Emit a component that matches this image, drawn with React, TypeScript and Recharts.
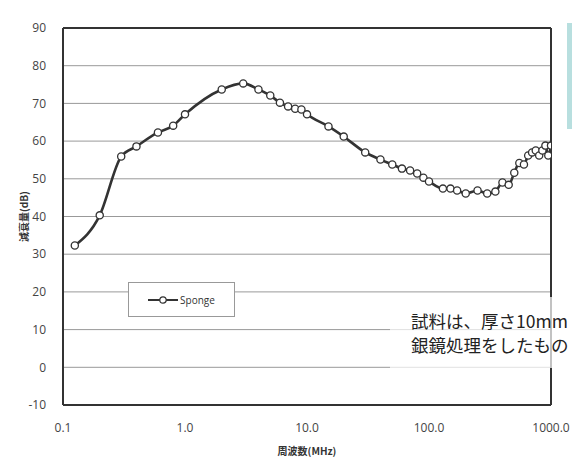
import React from 'react';
import { LineChart, Line, XAxis, YAxis, CartesianGrid, ReferenceLine } from 'recharts';

const frequencies = [0.125, 0.2, 0.3, 0.4, 0.6, 0.8, 1.0, 2.0, 3.0, 4.0, 5.0, 6.0, 7.0, 8.0, 9.0, 10, 15, 20, 30, 40, 50, 60, 70, 80, 90, 100, 130, 150, 170, 200, 250, 300, 350, 400, 450, 500, 550, 600, 650, 700, 750, 800, 850, 900, 950, 1000];
const spongeValues = [32.3, 40.3, 55.9, 58.6, 62.3, 64.1, 67.1, 73.7, 75.3, 73.7, 72.1, 70.2, 69.2, 68.6, 68.4, 67.1, 63.9, 61.2, 57.0, 55.1, 53.8, 52.7, 52.2, 51.4, 50.3, 49.3, 47.4, 47.4, 46.9, 46.1, 46.9, 46.1, 46.6, 49.0, 48.4, 51.6, 54.2, 53.8, 56.2, 57.0, 57.5, 56.2, 57.5, 58.8, 56.2, 58.8];
const xTicks = [0.1, 1, 10, 100, 1000];
const yTicks = [-10, 0, 10, 20, 30, 40, 50, 60, 70, 80, 90];
const seriesName = 'Sponge';
const noteLines = ['試料は、厚さ10mm', '銀鏡処理をしたもの'];

const data = frequencies.map((f, i) => ({ f, sponge: spongeValues[i] }));

const tickStyle = { fontFamily: '"Open Sans", "DejaVu Sans", sans-serif', fontSize: 12, fill: '#444' };

const LegendBox = () => (
  <div style={{ position: 'absolute', left: 128, top: 282, width: 107, height: 35, border: '1px solid #999', background: '#fff', boxSizing: 'border-box', display: 'flex', alignItems: 'center', justifyContent: 'center' }}>
    <svg width={30} height={10} style={{ marginRight: 2 }}>
      <line x1={0} y1={5} x2={30} y2={5} stroke="#333" strokeWidth={2} />
      <circle cx={15} cy={5} r={3.2} fill="#fff" stroke="#333" strokeWidth={1.2} />
    </svg>
    <span style={{ fontFamily: '"Open Sans", sans-serif', fontSize: 10, color: '#333' }}>{seriesName}</span>
  </div>
);

export default function App() {
  return (
    <div style={{ position: 'absolute', left: 0, top: 0, width: 572, height: 457, overflow: 'hidden', background: '#fff' }}>
      <LineChart width={572} height={457} data={data} margin={{ top: 28, right: 21, left: 0, bottom: 0 }}>
        <CartesianGrid vertical={false} stroke="#999" strokeWidth={1} />
        <XAxis
          dataKey="f"
          type="number"
          scale="log"
          domain={[0.1, 1000]}
          ticks={xTicks}
          allowDataOverflow
          height={52}
          tickFormatter={(v: number) => v.toFixed(1)}
          tick={tickStyle}
          tickLine={false}
          tickMargin={12}
          axisLine={{ stroke: '#333', strokeWidth: 2 }}
          label={{ value: '周波数(MHz)', position: 'insideBottom', offset: 2, style: { fontFamily: '"Noto Sans CJK JP", sans-serif', fontSize: 10, fontWeight: 700, fill: '#333' } }}
        />
        <YAxis
          type="number"
          domain={[-10, 90]}
          ticks={yTicks}
          width={63}
          tick={tickStyle}
          tickLine={false}
          tickMargin={11}
          axisLine={{ stroke: '#333', strokeWidth: 2 }}
          label={{ value: '減衰量(dB)', angle: -90, position: 'insideLeft', offset: 24, style: { fontFamily: '"Noto Sans CJK JP", sans-serif', fontSize: 10, fontWeight: 700, fill: '#333', textAnchor: 'middle' } }}
        />
        <ReferenceLine y={90} stroke="#333" strokeWidth={2} />
        <ReferenceLine x={1000} stroke="#333" strokeWidth={2} />
        <Line
          type="monotone"
          dataKey="sponge"
          name={seriesName}
          stroke="#333"
          strokeWidth={2.6}
          dot={{ r: 3.6, fill: '#fff', stroke: '#333', strokeWidth: 1.3 }}
          isAnimationActive={false}
        />
      </LineChart>
      <LegendBox />
      <div style={{ position: 'absolute', left: 390, top: 297, width: 182, height: 71, background: 'rgba(255,255,255,0.7)' }} />
      <div style={{ position: 'absolute', left: 411, top: 309, whiteSpace: 'nowrap', fontFamily: '"Noto Sans CJK JP", sans-serif', fontSize: 17.5, lineHeight: '24px', color: '#222' }}>
        {noteLines.map((t, i) => <div key={i}>{t}</div>)}
      </div>
      <div style={{ position: 'absolute', left: 567, top: 23, width: 5, height: 106, background: '#b8dfdf' }} />
    </div>
  );
}
